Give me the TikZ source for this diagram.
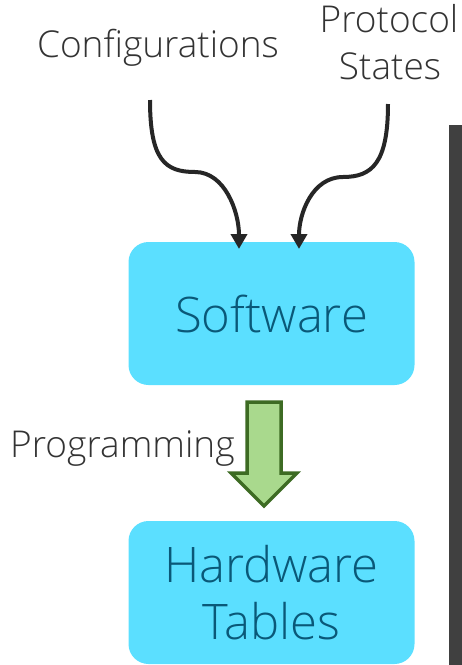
\documentclass[tikz,border=0pt]{standalone}
\usepackage{fontspec}
\IfFontExistsTF{Open Sans Light}{\setmainfont{Open Sans Light}}{\setmainfont{Open Sans}}
\usetikzlibrary{arrows.meta}
\definecolor{boxfill}{HTML}{5BDFFF}
\definecolor{boxtext}{HTML}{0A5878}
\definecolor{labeltext}{HTML}{333333}
\definecolor{curvecol}{HTML}{262626}
\definecolor{greenfill}{HTML}{A9D98D}
\definecolor{greenline}{HTML}{3D6B23}
\definecolor{barcol}{HTML}{404040}
\tikzset{
  stagebox/.style={draw=none, fill=boxfill, rounded corners=20pt, minimum width=286pt, minimum height=143pt, inner sep=0pt, text=boxtext, font=\fontsize{49}{57}\selectfont, align=center},
  lbl/.style={inner sep=0pt, anchor=base, text=labeltext, font=\fontsize{37}{48}\selectfont, align=center},
  curvearrow/.style={draw=curvecol, line width=4pt, -{Triangle[width=16pt,length=15pt]}},
}
\begin{document}
\begin{tikzpicture}[x=1pt,y=-1pt]
\useasboundingbox (0,0) rectangle (462,665);
\fill[barcol] (449,125) rectangle (462,665);
\node[stagebox] (sw) at (271.5,313.5) {Software};
\node[stagebox] (hw) at (271.5,592.5) {Hardware\\Tables};
\node[lbl] (conf) at (158,57) {Configurations};
\node[lbl] (proto) at (389,32) {Protocol};
\node[lbl] (states) at (390,79) {States};
\node[lbl, anchor=base west] (prog) at (10,457) {Programming};
\coordinate (c1s) at (150,100);
\coordinate (c1e) at (239,249);
\coordinate (c2s) at (388,104);
\coordinate (c2e) at (299,249);
\draw[curvearrow] (c1s) .. controls (150,160) and (165,172) .. (195,172) .. controls (225,172) and (239,212) .. (c1e);
\draw[curvearrow] (c2s) .. controls (388,163) and (372,177) .. (343,177) .. controls (312,177) and (299,214) .. (c2e);
\draw[draw=greenline, fill=greenfill, line width=3.5pt, line join=miter]
  (247,402) -- (281,402) -- (281,473) -- (297,473) -- (264,506) -- (231,473) -- (247,473) -- cycle;
\end{tikzpicture}
\end{document}
